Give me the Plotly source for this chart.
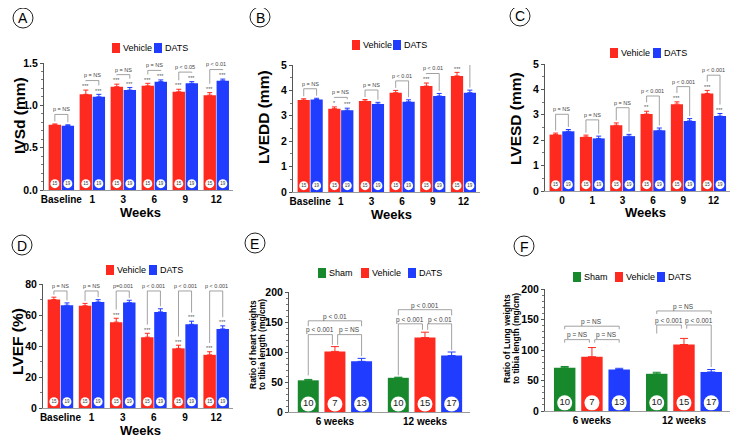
import plotly.graph_objects as go

RED = "#ff2a1f"
BLUE = "#1f3cff"
GREEN = "#17892c"
FONT = "Liberation Sans, Arial, sans-serif"
# page body keeps its 8px margin, so the figure is made 16px smaller than the window
OFF = 8
W, H = 750 - 2 * OFF, 446 - 2 * OFF

# ---- data ----
weeks = ["Baseline", "1", "3", "6", "9", "12"]
weeks_c = ["0", "1", "3", "6", "9", "12"]
n_veh = ["15"] * 6
n_dats = ["19"] * 6

# (A) IVSd
ivsd_veh = [0.77, 1.13, 1.22, 1.23, 1.16, 1.12]
ivsd_veh_err = [0.01, 0.05, 0.03, 0.03, 0.03, 0.03]
ivsd_dats = [0.76, 1.10, 1.18, 1.28, 1.26, 1.29]
ivsd_dats_err = [0.01, 0.03, 0.03, 0.02, 0.02, 0.02]
ivsd_veh_stars = ["", "***", "***", "***", "***", "***"]
ivsd_dats_stars = ["", "***", "***", "***", "***", "***"]
ivsd_p = ["p = NS", "p = NS", "p = NS", "p = NS", "p < 0.05", "p < 0.01"]

# (B) LVEDD
lvedd_veh = [3.62, 3.28, 3.58, 3.91, 4.17, 4.57]
lvedd_veh_err = [0.05, 0.07, 0.06, 0.09, 0.12, 0.14]
lvedd_dats = [3.64, 3.22, 3.46, 3.55, 3.78, 3.91]
lvedd_dats_err = [0.05, 0.08, 0.07, 0.08, 0.10, 0.10]
lvedd_veh_stars = ["", "*", "", "", "***", "***"]
lvedd_dats_stars = ["", "***", "", "", "", ""]
lvedd_p = ["p = NS", "p = NS", "p = NS", "p < 0.01", "p < 0.01", "p < 0.001"]

# (C) LVESD
lvesd_veh = [2.22, 2.13, 2.59, 3.03, 3.42, 3.84]
lvesd_veh_err = [0.06, 0.07, 0.09, 0.11, 0.09, 0.12]
lvesd_dats = [2.35, 2.07, 2.16, 2.39, 2.76, 2.95]
lvesd_dats_err = [0.07, 0.09, 0.07, 0.09, 0.09, 0.10]
lvesd_veh_stars = ["", "", "", "**", "***", "***"]
lvesd_dats_stars = ["", "", "", "", "", "***"]
lvesd_p = ["p = NS", "p = NS", "p = NS", "p < 0.001", "p < 0.001", "p < 0.001"]

# (D) LVEF
lvef_veh = [70, 66, 55.4, 45.7, 38.5, 34.3]
lvef_veh_err = [1.5, 1.5, 2.5, 2.5, 2, 2]
lvef_dats = [66.3, 68.4, 68, 62, 54, 51]
lvef_dats_err = [1.5, 1.5, 1.5, 2, 2, 2]
lvef_veh_stars = ["", "", "***", "***", "***", "***"]
lvef_dats_stars = ["", "", "", "", "***", "***"]
lvef_p = ["p = NS", "p = NS", "p=0.001", "p < 0.001", "p < 0.001", "p < 0.001"]

# (E) heart weight / tibia length, (F) lung weight / tibia length
groups = ["6 weeks", "12 weeks"]
n_sham3 = ["10", "10"]
n_veh3 = ["7", "15"]
n_dats3 = ["13", "17"]
heart_sham = [52.8, 57]
heart_sham_err = [1.5, 1]
heart_veh = [101, 124]
heart_veh_err = [8, 9]
heart_dats = [84.4, 94]
heart_dats_err = [5, 6]
lung_sham = [71, 61]
lung_sham_err = [2, 2.5]
lung_veh = [89, 109]
lung_veh_err = [15, 10]
lung_dats = [68, 64]
lung_dats_err = [2, 4]

# brackets: (group, bar a, bar b, line level, leg a end, leg b end, label)
heart_brackets = [
    (0, 0, 1, 129, 61, 112, "p < 0.001"),
    (0, 1, 2, 129, 112, 93, "p = NS"),
    (0, 0, 2, 152, 143, 143, "p < 0.01"),
    (1, 0, 1, 147, 61, 137, "p < 0.001"),
    (1, 1, 2, 147, 137, 103, "p < 0.01"),
    (1, 0, 2, 170.5, 161, 161, "p < 0.001"),
]
lung_brackets = [
    (0, 0, 1, 117, 112, 112, "p = NS"),
    (0, 1, 2, 117, 112, 112, "p = NS"),
    (0, 0, 2, 139, 134, 134, "p = NS"),
    (1, 0, 1, 141, 127, 135, "p < 0.001"),
    (1, 1, 2, 141, 135, 72, "p < 0.001"),
    (1, 0, 2, 164, 159, 159, "p = NS"),
]

fig = go.Figure()
annotations = []
shapes = []


def px(x):
    return (x - OFF) / W


def py(y):
    return 1 - (y - OFF) / H


def refs(k):
    return ("x" if k == 1 else f"x{k}"), ("y" if k == 1 else f"y{k}")


def axes(k, xdom, ydom, xrange, tickvals, ticktext, ymax, dtick, minor, tickformat=""):
    xr, yr = refs(k)
    fig.layout["xaxis" if k == 1 else f"xaxis{k}"] = dict(
        domain=[px(xdom[0]), px(xdom[1])], range=xrange, anchor=yr,
        tickvals=tickvals, ticktext=ticktext, showline=True, linecolor="#9a9a9a",
        linewidth=1, ticks="", showgrid=False, zeroline=False, automargin=False,
        tickfont=dict(family=FONT, size=10, color="black", weight="bold"))
    fig.layout["yaxis" if k == 1 else f"yaxis{k}"] = dict(
        domain=[py(ydom[1]), py(ydom[0])], range=[0, ymax], anchor=xr,
        dtick=dtick, tickformat=tickformat, showline=True, linecolor="#555",
        linewidth=1, ticks="outside", ticklen=3, tickcolor="#555", automargin=False,
        minor=dict(dtick=minor, ticks="outside", ticklen=2, tickcolor="#777"),
        showgrid=False, zeroline=False,
        tickfont=dict(family=FONT, size=10.5, color="black", weight="bold"))


def bracket(xr, yr, xa, xb, line, la, lb, label, text_dy, size):
    shapes.append(dict(type="path", xref=xr, yref=yr,
                       path=f"M {xa},{la} L {xa},{line} L {xb},{line} L {xb},{lb}",
                       line=dict(color="#8a8a8a", width=0.8)))
    annotations.append(dict(x=(xa + xb) / 2, y=line + text_dy, xref=xr, yref=yr,
                            text=label, showarrow=False, yanchor="middle",
                            font=dict(family=FONT, size=size, color="#444")))


def pair_panel(k, xdom, ydom, ymax, dtick, minor, labels, veh, veh_err, dats, dats_err,
               veh_stars, dats_stars, pvals, tickformat="", gap=0.075, level=None):
    xr, yr = refs(k)
    idx = list(range(len(veh)))
    xv = [i - 0.21 for i in idx]
    xd = [i + 0.21 for i in idx]
    axes(k, xdom, ydom, [-0.56, 5.54], idx, labels, ymax, dtick, minor, tickformat)
    for xs, ys, es, col, n in ((xv, veh, veh_err, RED, n_veh), (xd, dats, dats_err, BLUE, n_dats)):
        fig.add_trace(go.Bar(x=xs, y=ys, width=0.4, marker=dict(color=col, line_width=0),
                             error_y=dict(type="data", array=es, arrayminus=[0] * len(es),
                                          symmetric=False, color=col, thickness=1, width=2.5),
                             xaxis=xr, yaxis=yr, showlegend=False))
        fig.add_trace(go.Scatter(x=xs, y=[0.05 * ymax] * len(xs), mode="markers+text",
                                 marker=dict(size=9, color="white"), text=n,
                                 textfont=dict(family=FONT, size=4.5, color="#333"),
                                 xaxis=xr, yaxis=yr, showlegend=False, hoverinfo="skip"))
    for i in idx:
        legs = []
        for x, v, e, s in ((xv[i], veh[i], veh_err[i], veh_stars[i]),
                           (xd[i], dats[i], dats_err[i], dats_stars[i])):
            t = v + e
            if s:
                annotations.append(dict(x=x, y=t + 0.03 * ymax, xref=xr, yref=yr, text=s,
                                        showarrow=False, yanchor="middle",
                                        font=dict(family=FONT, size=5.5, color="#555")))
                t += 0.05 * ymax
            legs.append(t + 0.02 * ymax)
        line = level if level else max(veh[i] + veh_err[i], dats[i] + dats_err[i]) + gap * ymax
        bracket(xr, yr, xv[i], xd[i], line, min(legs[0], line), min(legs[1], line),
                pvals[i], 0.04 * ymax, 5.5)


def triple_panel(k, xdom, ydom, ymax, sets, brackets):
    xr, yr = refs(k)
    offs = [-0.296, 0, 0.296]
    axes(k, xdom, ydom, [-0.51, 1.5], [0, 1], groups, ymax, 50, 10)
    for off, (vals, errs, col, n) in zip(offs, sets):
        xs = [i + off for i in range(len(vals))]
        fig.add_trace(go.Bar(x=xs, y=vals, width=0.233, marker=dict(color=col, line_width=0),
                             error_y=dict(type="data", array=errs, arrayminus=[0] * len(errs),
                                          symmetric=False, color=col, thickness=1, width=4),
                             xaxis=xr, yaxis=yr, showlegend=False))
        fig.add_trace(go.Scatter(x=xs, y=[0.067 * ymax] * len(xs), mode="markers+text",
                                 marker=dict(size=15, color="white"), text=n,
                                 textfont=dict(family=FONT, size=9.5, color="#222"),
                                 xaxis=xr, yaxis=yr, showlegend=False, hoverinfo="skip"))
    for g, a, b, line, la, lb, label in brackets:
        xa = g + offs[a] + (0.03 if (a, b) == (1, 2) else 0)
        xb = g + offs[b] - (0.028 if (a, b) == (0, 1) else 0)
        bracket(xr, yr, xa, xb, line, la, lb, label, 7, 6.5)


pair_panel(1, (44, 233), (63, 190), 1.5, 0.5, 0.1, weeks, ivsd_veh, ivsd_veh_err,
           ivsd_dats, ivsd_dats_err, ivsd_veh_stars, ivsd_dats_stars, ivsd_p, tickformat=".1f")
pair_panel(2, (293, 480), (65, 192), 5, 1, 0.5, weeks, lvedd_veh, lvedd_veh_err,
           lvedd_dats, lvedd_dats_err, lvedd_veh_stars, lvedd_dats_stars, lvedd_p)
pair_panel(3, (545, 730), (64, 191), 5, 1, 0.5, weeks_c, lvesd_veh, lvesd_veh_err,
           lvesd_dats, lvesd_dats_err, lvesd_veh_stars, lvesd_dats_stars, lvesd_p, gap=0.12)
pair_panel(4, (43, 233), (284, 408), 80, 20, 10, weeks, lvef_veh, lvef_veh_err,
           lvef_dats, lvef_dats_err, lvef_veh_stars, lvef_dats_stars, lvef_p, level=75.5)
triple_panel(5, (289, 470), (292, 412), 200,
             [(heart_sham, heart_sham_err, GREEN, n_sham3), (heart_veh, heart_veh_err, RED, n_veh3),
              (heart_dats, heart_dats_err, BLUE, n_dats3)], heart_brackets)
triple_panel(6, (545, 730), (289, 411), 200,
             [(lung_sham, lung_sham_err, GREEN, n_sham3), (lung_veh, lung_veh_err, RED, n_veh3),
              (lung_dats, lung_dats_err, BLUE, n_dats3)], lung_brackets)


def text(x, y, s, size, bold=True, angle=0, anchor="center", color="black"):
    annotations.append(dict(x=px(x), y=py(y), xref="paper", yref="paper", text=s,
                            showarrow=False, textangle=angle, xanchor=anchor, yanchor="middle",
                            borderpad=0,
                            font=dict(family=FONT, size=size, color=color,
                                      weight="bold" if bold else "normal")))


# axis titles
for x, y in ((140, 213), (391, 214), (645, 213), (140, 430)):
    text(x, y, "Weeks", 13)
text(19, 116, "IVSd (mm)", 15.5, angle=-90)
text(264, 117, "LVEDD (mm)", 15.5, angle=-90)
text(515, 119, "LVESD (mm)", 15.5, angle=-90)
text(17, 342, "LVEF (%)", 15.5, angle=-90)
text(253, 345, "Ratio of heart weights", 8.5, angle=-90)
text(262, 345, "to tibia length (mg/cm)", 8.5, angle=-90)
text(507, 339, "Ratio of Lung weights", 8.5, angle=-90)
text(516, 339, "to tibia length (mg/cm)", 8.5, angle=-90)

# legends drawn per panel
legends = [
    (48, [(112, "Vehicle", RED), (154, "DATS", BLUE)]),
    (45, [(352, "Vehicle", RED), (393, "DATS", BLUE)]),
    (53, [(610, "Vehicle", RED), (653, "DATS", BLUE)]),
    (270, [(106, "Vehicle", RED), (149, "DATS", BLUE)]),
    (273, [(318, "Sham", GREEN), (361, "Vehicle", RED), (408, "DATS", BLUE)]),
    (277, [(573, "Sham", GREEN), (615, "Vehicle", RED), (657, "DATS", BLUE)]),
]
for y, items in legends:
    for x, name, col in items:
        shapes.append(dict(type="rect", xref="paper", yref="paper", x0=px(x), x1=px(x + 8),
                           y0=py(y + 5), y1=py(y - 5), fillcolor=col, line_width=0))
        text(x + 9.5, y, name, 9, bold=False, anchor="left")

# panel letters
for x, y, s in ((23, 18, "A"), (260, 17, "B"), (520, 16, "C"),
                (22, 245, "D"), (255, 243, "E"), (524, 246, "F")):
    shapes.append(dict(type="circle", xref="paper", yref="paper", x0=px(x - 10), x1=px(x + 10),
                       y0=py(y + 10), y1=py(y - 10), line=dict(color="#222", width=1)))
    text(x, y + 0.5, s, 14, bold=False)

fig.update_layout(width=W, height=H, margin=dict(l=0, r=0, t=0, b=0),
                  barmode="overlay", plot_bgcolor="white", paper_bgcolor="white",
                  annotations=annotations, shapes=shapes, showlegend=False)
fig.write_html("out.html")
